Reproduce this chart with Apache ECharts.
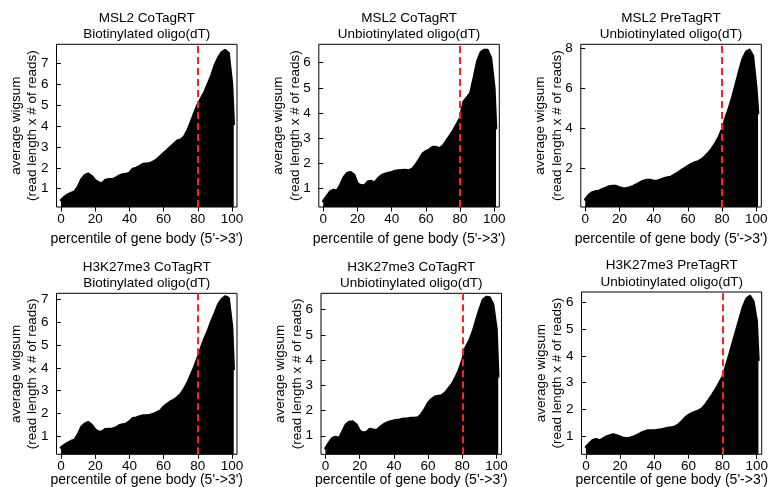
<!DOCTYPE html>
<html><head><meta charset="utf-8">
<script src="https://cdn.jsdelivr.net/npm/echarts@6/dist/echarts.min.js"></script>
<style>html,body{margin:0;padding:0;background:#fff}#c{width:771px;height:487px}</style>
</head><body><div id="c"></div>
<script>
// ---- data ----
const xPct = [0,2,4,6,8,10,12,14,16,18,20,22,24,26,28,30,32,34,36,38,40,42,44,46,48,50,52,54,56,58,60,62,64,66,68,70,72,74,76,78,80,82,84,86,88,90,92,94,96,98,100,101];

const msl2CoBio = [0.45,0.6,0.72,0.8,0.85,1.1,1.45,1.65,1.72,1.6,1.4,1.3,1.25,1.42,1.45,1.45,1.52,1.62,1.68,1.7,1.75,1.95,2.0,2.08,2.18,2.2,2.22,2.3,2.4,2.55,2.7,2.85,3.0,3.15,3.3,3.35,3.5,3.8,4.2,4.65,5.05,5.35,5.65,6.05,6.45,6.95,7.3,7.55,7.65,7.5,6.0,4.1];
const msl2CoUnbio = [0.5,0.7,0.88,0.95,0.92,1.15,1.45,1.62,1.65,1.55,1.2,1.13,1.12,1.27,1.3,1.24,1.4,1.52,1.58,1.62,1.65,1.7,1.72,1.73,1.74,1.72,1.78,1.95,2.15,2.38,2.48,2.55,2.65,2.65,2.6,2.7,2.9,3.1,3.3,3.55,3.8,4.45,4.62,4.8,5.4,6.05,6.4,6.5,6.5,6.2,5.0,3.4];
const msl2PreUnbio = [0.45,0.68,0.8,0.86,0.88,0.97,1.03,1.1,1.13,1.12,1.05,1.0,1.0,1.05,1.12,1.2,1.3,1.38,1.42,1.42,1.38,1.38,1.44,1.5,1.55,1.58,1.68,1.78,1.9,2.0,2.12,2.22,2.3,2.35,2.45,2.6,2.78,2.98,3.25,3.55,3.95,4.5,5.0,5.55,6.2,6.85,7.45,7.8,7.9,7.6,6.0,4.75];
const k27CoBio = [0.52,0.62,0.72,0.8,0.85,1.1,1.42,1.56,1.62,1.5,1.3,1.2,1.22,1.32,1.33,1.34,1.38,1.48,1.52,1.55,1.65,1.8,1.82,1.88,1.92,1.92,1.94,1.98,2.05,2.12,2.3,2.42,2.52,2.6,2.72,2.85,3.08,3.35,3.7,4.05,4.45,4.9,5.3,5.65,6.05,6.4,6.78,7.0,7.12,7.05,5.8,3.95];
const k27CoUnbio = [0.5,0.72,0.9,0.95,0.9,1.18,1.45,1.55,1.56,1.45,1.2,1.12,1.15,1.27,1.24,1.22,1.35,1.45,1.52,1.57,1.6,1.62,1.65,1.67,1.68,1.7,1.7,1.72,1.85,2.05,2.3,2.45,2.55,2.58,2.6,2.7,2.88,3.05,3.3,3.6,4.0,4.5,4.75,5.1,5.55,6.0,6.38,6.5,6.48,6.2,5.2,3.35];
const k27PreUnbio = [0.58,0.72,0.84,0.88,0.82,0.9,0.97,1.02,1.05,1.02,0.97,0.92,0.9,0.93,0.97,1.03,1.1,1.16,1.2,1.2,1.2,1.22,1.24,1.27,1.3,1.32,1.34,1.42,1.53,1.68,1.78,1.85,1.9,1.95,2.03,2.18,2.36,2.55,2.75,2.98,3.22,3.62,4.05,4.5,4.95,5.4,5.85,6.15,6.25,6.05,5.3,3.85];

const titleLine1 = ["MSL2 CoTagRT","MSL2 CoTagRT","MSL2 PreTagRT","H3K27me3 CoTagRT","H3K27me3 CoTagRT","H3K27me3 PreTagRT"];
const titleLine2 = ["Biotinylated oligo(dT)","Unbiotinylated oligo(dT)","Unbiotinylated oligo(dT)","Biotinylated oligo(dT)","Unbiotinylated oligo(dT)","Unbiotinylated oligo(dT)"];
const xTicks = [0,20,40,60,80,100];
const yTicks1 = [1,2,3,4,5,6,7];
const yTicks2 = [1,2,3,4,5,6];
const yTicks3 = [2,4,6,8];
const yTickSets = [yTicks1, yTicks2, yTicks3, yTicks1, yTicks2, yTicks2];
const yRanges = [[0.12,7.93],[0.27,6.73],[0.08,8.18],[0.22,7.26],[0.265,6.645],[0.31,6.40]];
const xRange = [-2.6, 102.9];
const cutoff = 80;
const xLabel = "percentile of gene body (5'->3')";
const yLabel1 = "average wigsum";
const yLabel2 = "(read length x # of reads)";
const seriesValues = [msl2CoBio, msl2CoUnbio, msl2PreUnbio, k27CoBio, k27CoUnbio, k27PreUnbio];

// ---- layout (pixels) ----
const boxes = [
  [56.5, 44.3, 180.5, 162.7],
  [318.8, 44.3, 180.5, 162.7],
  [580.8, 44.3, 180.5, 162.7],
  [56.5, 293.3, 180.5, 161],
  [321, 293.3, 180.5, 161],
  [581.5, 292, 180.5, 162.3]
];
const xLabelOffset = [32, 32, 32, 26, 26, 26];
const FF = "'Liberation Sans', Arial, Helvetica, sans-serif";

const chart = echarts.init(document.getElementById('c'), null, {renderer:'canvas'});
const grid = [], xAxis = [], yAxis = [], series = [], graphic = [];

function txt(x, y, text, size, rot) {
  return {
    type: 'text', x: x, y: y, rotation: rot || 0, silent: true,
    style: { x: 0, y: 0, text: text, fill: '#000', font: size + 'px ' + FF,
             textAlign: 'center', textVerticalAlign: 'middle', align: 'center', verticalAlign: 'middle' }
  };
}

for (let i = 0; i < 6; i++) {
  const [l, t, w, h] = boxes[i];
  grid.push({ left: l, top: t, width: w, height: h, show: true, borderColor: '#000', borderWidth: 1, backgroundColor: 'transparent' });
  xAxis.push({
    gridIndex: i, type: 'value', min: xRange[0], max: xRange[1],
    axisLine: { show: false }, splitLine: { show: false },
    axisTick: { show: true, length: 4.5, lineStyle: { color: '#000', width: 1 }, customValues: xTicks },
    axisLabel: { customValues: xTicks, color: '#000', fontSize: 13.5, fontFamily: FF, margin: 5 }
  });
  yAxis.push({
    gridIndex: i, type: 'value', min: yRanges[i][0], max: yRanges[i][1],
    axisLine: { show: false }, splitLine: { show: false },
    axisTick: { show: true, length: 4.5, lineStyle: { color: '#000', width: 1 }, customValues: yTickSets[i] },
    axisLabel: { customValues: yTickSets[i], color: '#000', fontSize: 13.5, fontFamily: FF, margin: 8 }
  });
  series.push({
    type: 'line', xAxisIndex: i, yAxisIndex: i,
    data: xPct.map((x, k) => [x, seriesValues[i][k]]),
    showSymbol: false, symbol: 'none', smooth: false, clip: true, silent: true,
    lineStyle: { color: '#000', width: 2.5, cap: 'round', join: 'round' },
    areaStyle: { color: '#000', opacity: 1, origin: 'start' },
    markLine: {
      silent: true, symbol: ['none', 'none'], label: { show: false }, animation: false,
      lineStyle: { color: '#ff2020', width: 2, type: [7, 4] },
      data: [{ xAxis: cutoff }]
    }
  });
  const cx = l + w / 2, cy = t + h / 2;
  graphic.push(txt(cx, t - 26.3, titleLine1[i], 13.5));
  graphic.push(txt(cx, t - 9.6, titleLine2[i], 13.5));
  graphic.push(txt(cx, t + h + xLabelOffset[i], xLabel, 14));
  graphic.push(txt(l - 40.5, cy, yLabel1, 13.5, Math.PI / 2));
  graphic.push(txt(l - 24, cy, yLabel2, 13.5, Math.PI / 2));
}

chart.setOption({
  animation: false,
  backgroundColor: '#fff',
  grid: grid, xAxis: xAxis, yAxis: yAxis, series: series, graphic: graphic
});
</script>
</body></html>
